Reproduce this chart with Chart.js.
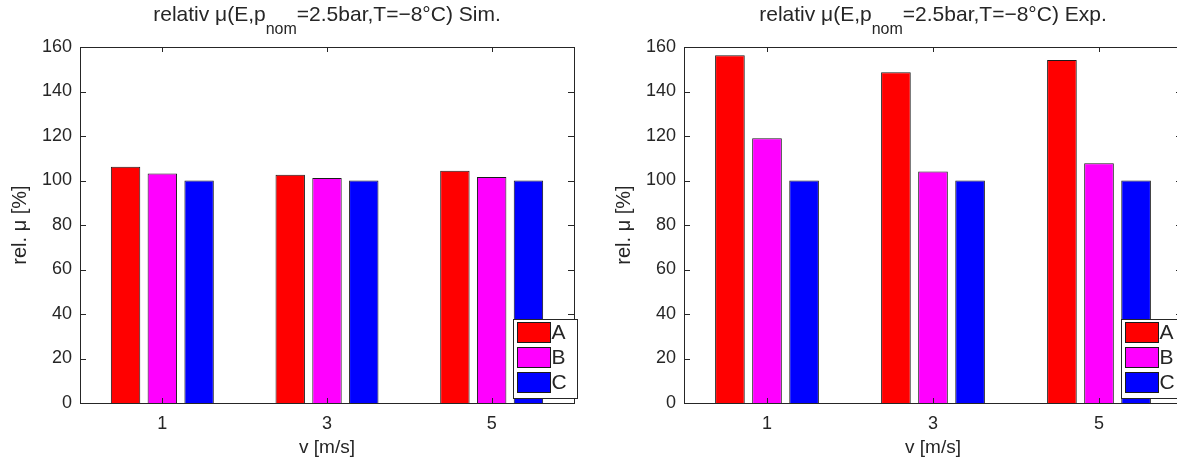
<!DOCTYPE html>
<html>
<head>
<meta charset="utf-8">
<script src="https://cdn.jsdelivr.net/npm/chart.js@4.4.0/dist/chart.umd.min.js"></script>
<style>
  html, body { margin: 0; padding: 0; background: #fff; overflow: hidden; }
  body { position: relative; width: 1177px; height: 461px; font-family: 'Liberation Sans', Arial, sans-serif; }
  .panel { position: absolute; top: 0; height: 461px; }
  #simPanel { left: 0; width: 590px; }
  #expPanel { left: 604px; width: 600px; }
  .title {
    position: absolute; top: 3px; font-size: 21px; line-height: 21px;
    color: #262626; white-space: nowrap; transform: translateX(-50%);
  }
  .title sub { font-size: 16px; vertical-align: -13px; line-height: 0; }
</style>
</head>
<body>
<div class="panel" id="simPanel">
  <canvas id="simChart" width="590" height="461"></canvas>
  <div class="title" style="left:327px">relativ μ(E,p<sub>nom</sub>=2.5bar,T=−8°C) Sim.</div>
</div>
<div class="panel" id="expPanel">
  <canvas id="expChart" width="600" height="461"></canvas>
  <div class="title" style="left:329px">relativ μ(E,p<sub>nom</sub>=2.5bar,T=−8°C) Exp.</div>
</div>
<script>
// data
const categories = ['1', '3', '5'];
const seriesNames = ['A', 'B', 'C'];
const seriesColors = ['#ff0000', '#ff00ff', '#0000ff'];

// Sim.
const simA = [106.2, 102.6, 104.4];
const simB = [103.1, 101.1, 101.6];
const simC = [100, 100, 100];

// Exp.
const expA = [156.3, 148.6, 154.2];
const expB = [119.0, 104.0, 107.7];
const expC = [100, 100, 100];

const yMin = 0;
const yMax = 160;
const yStep = 20;

const axisColor = '#262626';

// matlab style box with inward ticks
const matlabBox = {
  id: 'matlabBox',
  afterDatasetsDraw(chart) {
    const { ctx, chartArea: { left, right, top, bottom }, scales: { x, y } } = chart;
    ctx.save();
    ctx.strokeStyle = axisColor;
    ctx.lineWidth = 1;
    ctx.beginPath();
    y.ticks.forEach((t) => {
      const py = Math.round(y.getPixelForValue(t.value)) + 0.5;
      ctx.moveTo(left, py);
      ctx.lineTo(left + 6, py);
      ctx.moveTo(right, py);
      ctx.lineTo(right - 6, py);
    });
    x.ticks.forEach((t, i) => {
      const px = Math.round(x.getPixelForTick(i)) + 0.5;
      ctx.moveTo(px, bottom);
      ctx.lineTo(px, bottom - 5);
      ctx.moveTo(px, top);
      ctx.lineTo(px, top + 5);
    });
    ctx.stroke();
    ctx.strokeRect(Math.round(left) + 0.5, Math.round(top) + 0.5, Math.round(right - left), Math.round(bottom - top));
    ctx.restore();
  },
};

// legend inside plot, bottom right
const insideLegend = {
  id: 'insideLegend',
  afterDraw(chart) {
    const { ctx, chartArea } = chart;
    const w = 64;
    const h = 79;
    const boxRight = chartArea.right + 3;
    const boxBottom = chartArea.bottom - 5;
    const bx = Math.round(boxRight - w) + 0.5;
    const by = Math.round(boxBottom - h) + 0.5;
    ctx.save();
    ctx.fillStyle = '#fff';
    ctx.fillRect(bx, by, w, h);
    ctx.strokeStyle = axisColor;
    ctx.lineWidth = 1;
    ctx.strokeRect(bx, by, w, h);
    ctx.font = '21px "Liberation Sans", Arial, sans-serif';
    ctx.textBaseline = 'middle';
    chart.data.datasets.forEach((ds, i) => {
      const ry = by + 3 + i * 25;
      ctx.fillStyle = ds.backgroundColor;
      ctx.fillRect(bx + 4, ry, 33, 20);
      ctx.strokeStyle = '#1a1a1a';
      ctx.strokeRect(bx + 4, ry, 33, 20);
      ctx.fillStyle = axisColor;
      ctx.fillText(ds.label, bx + 38, ry + 11);
    });
    ctx.restore();
  },
};

const makeChart = (id, values, padRight) => {
  const $canvas = document.getElementById(id);
  return new Chart($canvas, {
    type: 'bar',
    data: {
      labels: categories,
      datasets: seriesNames.map((name, i) => ({
        label: name,
        data: values[i],
        backgroundColor: seriesColors[i],
        borderColor: '#1a1a1a',
        borderWidth: 1,
        categoryPercentage: 0.67,
        barPercentage: 0.8,
      })),
    },
    options: {
      responsive: false,
      animation: false,
      devicePixelRatio: 1,
      layout: { padding: { top: 47, right: padRight, bottom: 0, left: 0 } },
      plugins: {
        legend: { display: false },
        tooltip: { enabled: false },
      },
      scales: {
        x: {
          grid: { display: false },
          border: { display: false },
          ticks: {
            color: axisColor,
            font: { family: 'Liberation Sans', size: 18 },
            padding: 2,
          },
          title: {
            display: true,
            text: 'v [m/s]',
            color: axisColor,
            font: { family: 'Liberation Sans', size: 19 },
            padding: { top: 0, bottom: 2 },
          },
          afterFit: (scale) => {
            scale.height = 58;
          },
        },
        y: {
          min: yMin,
          max: yMax,
          grid: { display: false, drawTicks: false },
          border: { display: false },
          ticks: {
            stepSize: yStep,
            color: axisColor,
            font: { family: 'Liberation Sans', size: 18 },
            padding: 8,
          },
          title: {
            display: true,
            text: 'rel. μ [%]',
            color: axisColor,
            font: { family: 'Liberation Sans', size: 20 },
            padding: { top: 8, bottom: 0 },
          },
          afterFit: (scale) => {
            scale.width = 80;
          },
        },
      },
    },
    plugins: [matlabBox, insideLegend],
  });
};

makeChart('simChart', [simA, simB, simC], 16);
makeChart('expChart', [expA, expB, expC], 22);
</script>
</body>
</html>
